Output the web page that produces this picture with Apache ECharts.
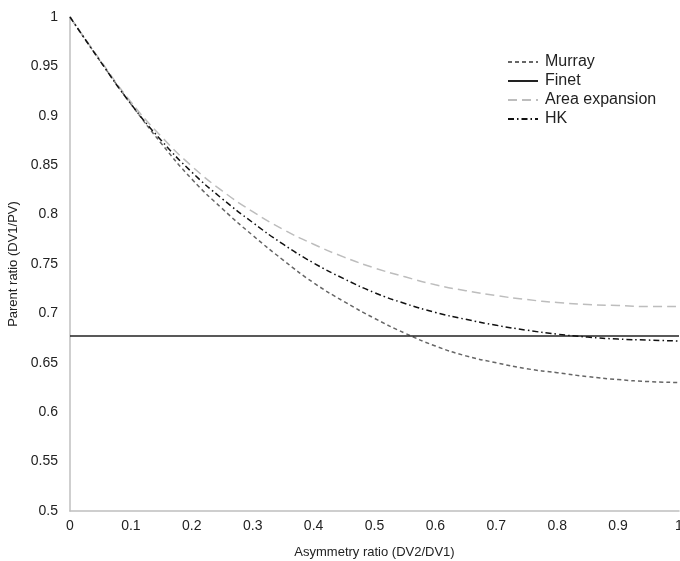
<!DOCTYPE html>
<html>
<head>
<meta charset="utf-8">
<script src="https://cdn.jsdelivr.net/npm/echarts@6/dist/echarts.min.js"></script>
<style>html,body{margin:0;padding:0;background:#fff;}#c{width:680px;height:561px;}</style>
</head>
<body>
<div id="c"></div>
<script>
const xs = [0, 0.05, 0.1, 0.15, 0.2, 0.25, 0.3, 0.35, 0.4, 0.45, 0.5, 0.55, 0.6, 0.65, 0.7, 0.75, 0.8, 0.85, 0.9, 0.95, 1];
const murray = [1, 0.955, 0.912, 0.872, 0.836, 0.806, 0.779, 0.754, 0.731, 0.712, 0.695, 0.680, 0.667, 0.657, 0.650, 0.644, 0.640, 0.636, 0.633, 0.631, 0.630];
const areaExpansion = [1, 0.956, 0.914, 0.879, 0.849, 0.824, 0.803, 0.785, 0.770, 0.757, 0.746, 0.737, 0.729, 0.723, 0.718, 0.714, 0.711, 0.709, 0.708, 0.707, 0.707];
const hk = [1, 0.955, 0.912, 0.875, 0.843, 0.816, 0.792, 0.770, 0.751, 0.735, 0.721, 0.710, 0.701, 0.694, 0.688, 0.683, 0.679, 0.676, 0.674, 0.673, 0.672];
const finetX = [0, 1];
const finet = [0.677, 0.677];

const pairs = (x, y) => x.map((v, i) => [v, y[i]]);
const font = '"Liberation Sans", Arial, Helvetica, sans-serif';

const chart = echarts.init(document.getElementById('c'));
chart.setOption({
  animation: false,
  textStyle: { fontFamily: font },
  grid: { left: 70, right: 1, top: 17, bottom: 50, containLabel: false, outerBoundsMode: 'none' },
  legend: {
    orient: 'vertical',
    left: 502, top: 49,
    itemWidth: 30, itemHeight: 14, itemGap: 3,
    itemStyle: { opacity: 0 },
    textStyle: { fontSize: 16, color: '#222', fontFamily: font, padding: [0, 0, 0, 2] },
    data: ['Murray', 'Finet', 'Area expansion', 'HK']
  },
  xAxis: {
    type: 'value', min: 0, max: 1, interval: 0.1,
    name: 'Asymmetry ratio (DV2/DV1)', nameLocation: 'middle', nameGap: 35,
    nameTextStyle: { fontSize: 13, color: '#222' },
    axisLine: { lineStyle: { color: '#bfbfbf', width: 1.5 } },
    axisTick: { show: false },
    splitLine: { show: false },
    axisLabel: { fontSize: 14, color: '#222', margin: 8 }
  },
  yAxis: {
    type: 'value', min: 0.5, max: 1, interval: 0.05,
    name: 'Parent ratio (DV1/PV)', nameLocation: 'middle', nameGap: 45,
    nameTextStyle: { fontSize: 13, color: '#222' },
    axisLine: { show: true, lineStyle: { color: '#bfbfbf', width: 1.5 } },
    axisTick: { show: false },
    splitLine: { show: false },
    axisLabel: { fontSize: 14, color: '#222', margin: 12 }
  },
  series: [
    { name: 'Murray', type: 'line', smooth: true, symbol: 'none', data: pairs(xs, murray),
      lineStyle: { color: '#666', width: 1.5, type: [4, 3] }, itemStyle: { color: '#666' } },
    { name: 'Finet', type: 'line', symbol: 'none', data: pairs(finetX, finet),
      lineStyle: { color: '#222', width: 1.5, type: 'solid' }, itemStyle: { color: '#222' } },
    { name: 'Area expansion', type: 'line', smooth: true, symbol: 'none', data: pairs(xs, areaExpansion),
      lineStyle: { color: '#bdbdbd', width: 1.5, type: [9, 5] }, itemStyle: { color: '#bdbdbd' } },
    { name: 'HK', type: 'line', smooth: true, symbol: 'none', data: pairs(xs, hk),
      lineStyle: { color: '#111', width: 1.5, type: [6, 3, 1.5, 3] }, itemStyle: { color: '#111' } }
  ]
});
</script>
</body>
</html>
